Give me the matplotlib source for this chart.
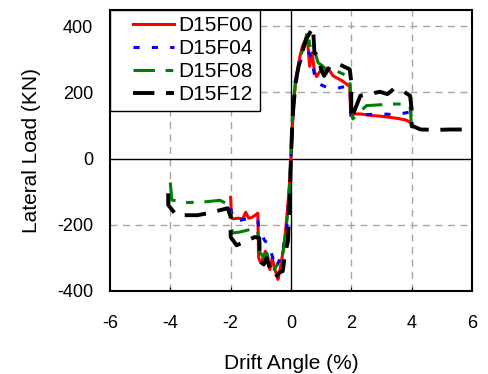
import numpy as np
import matplotlib
matplotlib.use("Agg")
from matplotlib import pyplot as plt
from matplotlib.lines import Line2D
from matplotlib.legend_handler import HandlerLine2D

plt.rcParams['font.family'] = ['Liberation Sans', 'DejaVu Sans']
plt.rcParams['axes.unicode_minus'] = False

# skeleton curves (drift %, load kN)
f00_x = [-2.0, -1.97, -1.9, -1.75, -1.6, -1.5, -1.4, -1.3, -1.2, -1.1, -1.07, -1.0, -0.92, -0.85,
         -0.78, -0.7, -0.62, -0.55, -0.48, -0.43, -0.35, -0.28, -0.2, -0.12, -0.05, 0.0, 0.05, 0.1,
         0.15, 0.22, 0.3, 0.4, 0.48, 0.55, 0.62, 0.7, 0.78, 0.85, 0.95, 1.1, 1.25, 1.4, 1.7, 1.95,
         1.98, 2.05, 2.3, 2.7, 3.0, 3.5, 3.8, 4.0]
f00_y = [-117, -180, -182, -180, -182, -162, -180, -178, -172, -165, -300, -315, -300, -280,
         -310, -335, -300, -330, -350, -365, -330, -290, -240, -160, -80, 0, 100, 180,
         230, 270, 310, 345, 358, 355, 279, 320, 263, 248, 262, 275, 270, 250, 235, 218,
         130, 135, 135, 130, 128, 122, 117, 108]

f04_x = [-2.0, -1.9, -1.7, -1.4, -1.1, -1.05, -0.85, -0.76, -0.6, -0.5, -0.4, -0.27, -0.15, -0.05,
         0.0, 0.05, 0.15, 0.3, 0.45, 0.6, 0.7, 0.8, 0.95, 1.2, 1.5, 1.8, 1.95, 2.0, 2.3, 3.0,
         3.5, 3.9]
f04_y = [-150, -185, -187, -180, -187, -220, -250, -255, -300, -330, -310, -275, -220, -100,
         0, 110, 220, 290, 325, 320, 300, 240, 225, 215, 212, 218, 215, 130, 132, 135,
         133, 140]

f08_x = [-4.0, -3.95, -3.5, -2.9, -2.35, -2.1, -2.0, -1.95, -1.7, -1.3, -1.1, -1.05, -0.9, -0.8,
         -0.7, -0.55, -0.45, -0.35, -0.25, -0.1, 0.0, 0.05, 0.15, 0.3, 0.45, 0.55, 0.65, 0.8,
         0.9, 1.05, 1.2, 1.5, 1.75, 1.95, 2.0, 2.05, 2.5, 3.0, 3.3, 3.7, 3.95, 4.0, 4.0]
f08_y = [-72, -125, -133, -131, -126, -138, -150, -225, -222, -213, -215, -280, -300, -285,
         -320, -335, -320, -300, -280, -160, 0, 130, 230, 300, 350, 385, 330, 320,
         290, 280, 260, 265, 255, 245, 140, 120, 160, 163, 165, 165, 160, 93, 75]

f12_x = [-4.07, -4.07, -3.8, -3.1, -2.75, -2.1, -2.0, -2.0, -1.8, -1.2, -1.05, -1.03, -0.9, -0.8,
         -0.7, -0.6, -0.5, -0.4, -0.27, -0.2, -0.1, -0.05, 0.0, 0.05, 0.15, 0.3, 0.5, 0.73,
         0.78, 0.9, 1.0, 1.1, 1.3, 1.6, 1.95, 2.0, 2.0, 2.3, 2.6, 2.95, 3.2, 3.4, 3.7, 3.95,
         4.0, 4.0, 4.3, 4.8, 5.3, 6.0]
f12_y = [-105, -140, -171, -171, -165, -150, -175, -237, -262, -237, -240, -310, -320, -300,
         -330, -352, -358, -345, -340, -290, -250, -150, 0, 120, 230, 300, 360, 397,
         320, 310, 270, 250, 280, 285, 270, 230, 120, 190, 195, 202, 195, 210, 205, 190,
         150, 100, 88, 87, 88, 88]


# legend handle with some empty space on its left
class ShiftedLine(HandlerLine2D):
    def create_artists(self, legend, orig_handle, xdescent, ydescent, width, height,
                       fontsize, trans):
        sh = 12
        return super().create_artists(legend, orig_handle, xdescent - sh, ydescent,
                                      width - sh, height, fontsize, trans)


fig = plt.figure(figsize=(4.88, 3.74), dpi=100)
ax = fig.add_axes([0.2254, 0.222, 0.7416, 0.752])

ax.plot(f00_x, f00_y, color='red', lw=2.2, ls='-', label='D15F00', zorder=3)
ax.plot(f04_x, f04_y, color='blue', lw=2.2, ls=(0, (2, 4)), label='D15F04', zorder=4)
ax.plot(f08_x, f08_y, color='green', lw=2.2, ls=(0, (7, 3.5, 2.5, 3.5)), label='D15F08', zorder=5)
ax.plot(f12_x, f12_y, color='black', lw=2.8, ls=(0, (5.5, 3)), label='D15F12', zorder=6)

ax.axhline(0, color='black', lw=1, zorder=2)
ax.axvline(0, color='black', lw=1, zorder=2)
for gx in [-4, -2, 2, 4]:
    ax.axvline(gx, color='#a6a6a6', lw=1, ls=(0, (5, 4)), zorder=1)
for gy in [-200, 200, 400]:
    ax.axhline(gy, color='#a6a6a6', lw=1, ls=(0, (5, 4)), zorder=1)

ax.set_xlim(-6, 6)
ax.set_ylim(-400, 450)
ax.set_xticks([-6, -4, -2, 0, 2, 4, 6])
ax.set_yticks([-400, -200, 0, 200, 400])
ax.tick_params(axis='x', direction='in', length=3, width=0.8, pad=17, labelsize=13)
ax.tick_params(axis='y', direction='in', length=0, pad=12, labelsize=13)
for s in ax.spines.values():
    s.set_linewidth(1.5)

ax.set_xlabel('Drift Angle (%)', fontsize=15, labelpad=16)
ax.set_ylabel('Lateral Load (KN)', fontsize=15, labelpad=12)

leg = ax.legend(loc='upper left', fontsize=15, frameon=True, fancybox=False,
                borderaxespad=0, borderpad=0.3, labelspacing=0.2,
                handlelength=2.75, handletextpad=0.25, framealpha=1,
                handler_map={Line2D: ShiftedLine()})
leg.get_frame().set_edgecolor('black')
leg.get_frame().set_linewidth(1)

plt.savefig('out.png', dpi=100)
